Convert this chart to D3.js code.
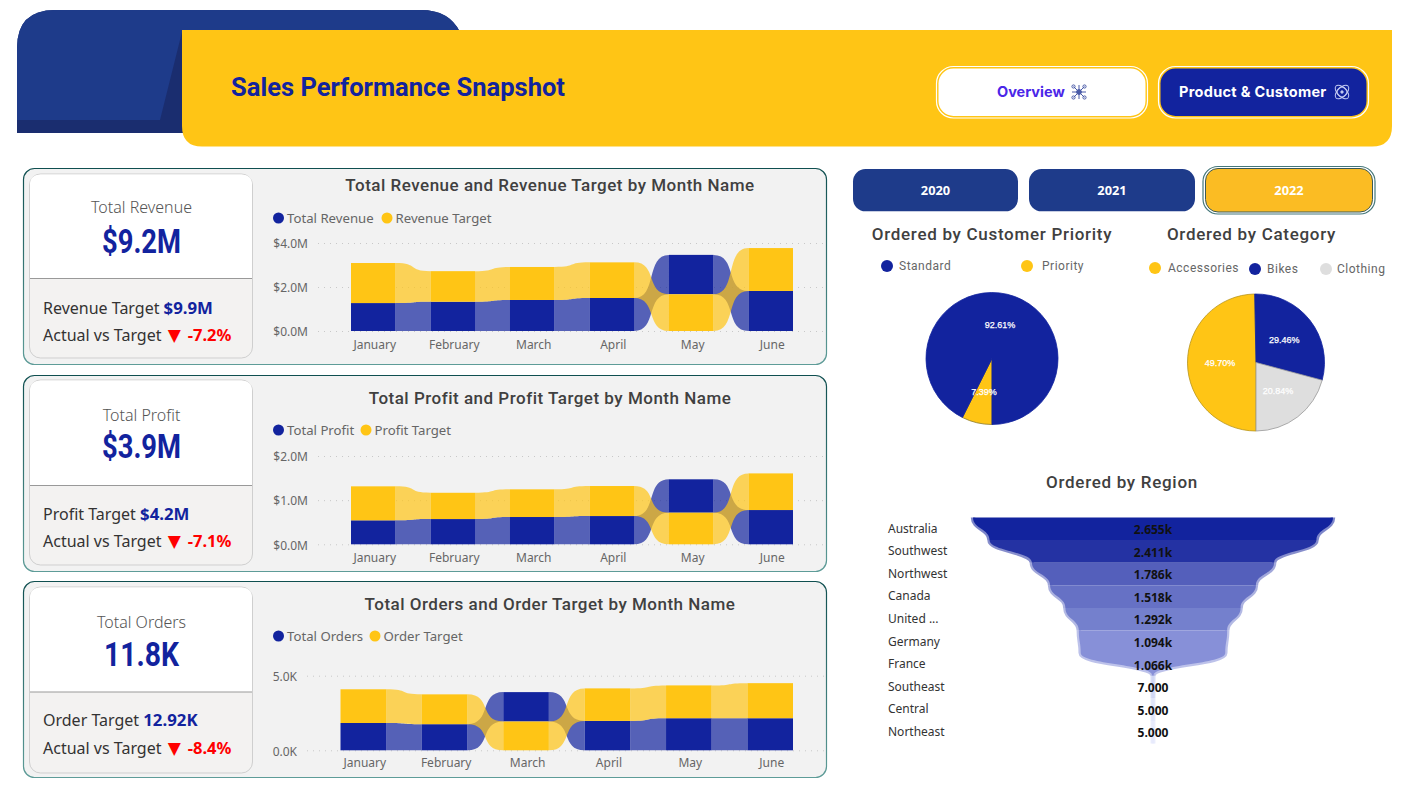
<!DOCTYPE html>
<html>
<head>
<meta charset="utf-8">
<title>Sales Performance Snapshot</title>
<script src="https://cdn.jsdelivr.net/npm/d3@7"></script>
<style>
  html, body { margin: 0; padding: 0; background: #fff; }
  svg { display: block; }
  .domain { display: none; }
</style>
</head>
<body>
<svg id="board" width="1411" height="804"></svg>
<script>
// ---------- data ----------
const months = ["January", "February", "March", "April", "May", "June"];

const revenueActual = [1.27, 1.33, 1.41, 1.50, 1.79, 1.82];
const revenueTarget = [1.82, 1.39, 1.50, 1.62, 1.67, 1.95];
const revenueTicks = [0, 2, 4];

const profitActual = [0.543, 0.572, 0.618, 0.640, 0.756, 0.776];
const profitTarget = [0.770, 0.595, 0.627, 0.680, 0.716, 0.830];
const profitTicks = [0, 1, 2];

const ordersActual = [1.83, 1.75, 1.97, 1.97, 2.15, 2.15];
const ordersTarget = [2.26, 2.00, 1.93, 2.18, 2.20, 2.35];
const ordersTicks = [0, 5];

const priorityLabels = ["Priority", "Standard"];
const priorityShares = [7.39, 92.61];

const categoryLabels = ["Accessories", "Bikes", "Clothing"];
const categoryShares = [49.70, 29.46, 20.84];

const regionLabels = ["Australia", "Southwest", "Northwest", "Canada", "United ...", "Germany", "France", "Southeast", "Central", "Northeast"];
const regionOrders = [2655, 2411, 1786, 1518, 1292, 1094, 1066, 7, 5, 5];

const yearLabels = ["2020", "2021", "2022"];

// ---------- palette and fonts ----------
const BLUE = "#12239E", GOLD = "#FFC515", GREY = "#DEDEDE", NAVY = "#1E3B8A", NAVY_DARK = "#1A2D6F";
const HEAD_FONT = "Roboto, sans-serif";
const BODY_FONT = "'Noto Sans', sans-serif";
const funnelShades = ["#12239E", "#2432A3", "#545FBB", "#6671C5", "#7480CD", "#8790D8", "#8790D8", "#CBD1F3", "#DDE1F9", "#E4E8FB"];

const svg = d3.select("#board");

function label(parent, x, y, str, o = {}) {
  const t = parent.append("text")
    .attr("x", x).attr("y", y)
    .attr("dy", "0.35em")
    .attr("text-anchor", o.anchor || "start")
    .attr("font-family", o.font || BODY_FONT)
    .attr("font-size", o.size || 12)
    .attr("font-weight", o.weight || 400)
    .attr("letter-spacing", o.spacing || 0)
    .attr("fill", o.fill || "#333")
    .text(str);
  // narrower set for the heavy display lines
  if (o.fit) t.attr("textLength", o.fit).attr("lengthAdjust", "spacingAndGlyphs");
  return t;
}

// Ribbon edge: flat near both bars, steep at the midpoint of the gap
function ribbonCurve(context) {
  const pull = 0.68;
  return {
    areaStart() { this._line = 0; },
    areaEnd() { this._line = NaN; },
    lineStart() { this._point = 0; },
    lineEnd() {
      if (this._line || (this._line !== 0 && this._point === 1)) context.closePath();
      this._line = 1 - this._line;
    },
    point(x, y) {
      if (this._point === 0) {
        this._point = 1;
        if (this._line) context.lineTo(x, y); else context.moveTo(x, y);
      } else {
        const dx = x - this._x0;
        context.bezierCurveTo(this._x0 + pull * dx, this._y0, x - pull * dx, y, x, y);
      }
      this._x0 = x; this._y0 = y;
    }
  };
}

// ---------- header band ----------
const header = svg.append("g");
header.append("path").attr("fill", NAVY_DARK)
  .attr("d", "M17,133V48Q17,10 55,10H421Q449,10 460,32V133Z");
header.append("path").attr("fill", NAVY)
  .attr("d", "M17,120V48Q17,10 55,10H421Q449,10 460,32H182L160,120Z");
header.append("path").attr("fill", GOLD)
  .attr("d", "M182,30H1392V126Q1392,146.5 1372,146.5H202Q182,146.5 182,126Z");
label(header, 231, 87, "Sales Performance Snapshot", { font: HEAD_FONT, size: 26, weight: 700, fill: BLUE, fit: 334 });

// navigation buttons
header.append("rect").attr("x", 936.5).attr("y", 66.5).attr("width", 211).attr("height", 51.5).attr("rx", 17)
  .attr("fill", "none").attr("stroke", "#fff").attr("stroke-width", 1.2);
header.append("rect").attr("x", 938.5).attr("y", 68.5).attr("width", 207).attr("height", 47.5).attr("rx", 15).attr("fill", "#fff");
label(header, 997, 92, "Overview", { font: "Inter, sans-serif", size: 14.5, weight: 700, fill: "#4A26E8" });

header.append("rect").attr("x", 1158.5).attr("y", 66.5).attr("width", 210).attr("height", 51.5).attr("rx", 17)
  .attr("fill", "none").attr("stroke", "#fff").attr("stroke-width", 1.2);
header.append("rect").attr("x", 1160.5).attr("y", 68.5).attr("width", 206).attr("height", 47.5).attr("rx", 15).attr("fill", BLUE);
label(header, 1179, 92, "Product & Customer", { font: "Inter, sans-serif", size: 14.5, weight: 700, fill: "#fff", spacing: 0.3 });

// network glyph on the first button
const netIcon = header.append("g").attr("transform", "translate(1079,92)")
  .attr("fill", "none").attr("stroke", "#4A5BA8").attr("stroke-width", 1);
[[-5.5, -5.5], [5.5, -5.5], [-5.5, 5.5], [5.5, 5.5]].forEach(([dx, dy]) => {
  netIcon.append("line").attr("x1", 0).attr("y1", 0).attr("x2", dx).attr("y2", dy);
  netIcon.append("circle").attr("cx", dx).attr("cy", dy).attr("r", 1.6);
});
netIcon.append("line").attr("x1", -7).attr("y1", 0).attr("x2", 7).attr("y2", 0);
netIcon.append("line").attr("x1", 0).attr("y1", -7).attr("x2", 0).attr("y2", 7);
netIcon.append("circle").attr("r", 2.4).attr("fill", "#4A5BA8");

// atom glyph on the second button
const atomIcon = header.append("g").attr("transform", "translate(1342,92)")
  .attr("fill", "none").attr("stroke", "#C3CAF2").attr("stroke-width", 1);
[45, -45].forEach(a => atomIcon.append("ellipse").attr("rx", 8.5).attr("ry", 4.5).attr("transform", `rotate(${a})`));
atomIcon.append("circle").attr("r", 5);
atomIcon.append("circle").attr("r", 1.2).attr("fill", "#C3CAF2");

// ---------- year selector ----------
const yearBox = d3.scaleOrdinal().domain(yearLabels).range([[853, 165], [1029, 166], [1205.5, 167]]);
const yearGroup = svg.append("g");
yearLabels.forEach((yr, i) => {
  const [x, w] = yearBox(yr);
  const active = i === yearLabels.length - 1;
  if (active) {
    yearGroup.append("rect").attr("x", x - 2.5).attr("y", 166.5).attr("width", w + 5).attr("height", 47.5).attr("rx", 15)
      .attr("fill", "#fff").attr("stroke", "#44777A").attr("stroke-width", 1.2);
  }
  yearGroup.append("rect").attr("x", x).attr("y", active ? 168.5 : 169).attr("width", w).attr("height", active ? 43.5 : 42.3).attr("rx", 12.5)
    .attr("fill", active ? "#FBBC23" : NAVY).attr("stroke", active ? "#3C5A55" : "none").attr("stroke-width", 1);
  label(yearGroup, x + w / 2, 190.5, yr, { anchor: "middle", font: "'Open Sans', sans-serif", size: 12.8, weight: 700, fill: "#fff" });
});

// ---------- KPI panels with ribbon charts ----------
const borderGrad = svg.append("defs").append("linearGradient").attr("id", "panelEdge")
  .attr("x1", 0).attr("y1", 0).attr("x2", 0).attr("y2", 1);
borderGrad.append("stop").attr("offset", "0").attr("stop-color", "#0F4F50");
borderGrad.append("stop").attr("offset", "1").attr("stop-color", "#5E9C98");

const fmtMoney = d => `$${d.toFixed(1)}M`;
const fmtKilo = d => `${d.toFixed(1)}K`;

const panels = [
  { top: 168.5, height: 196, card: [174, 358, 278.5], kpiY: [207, 241], noteY: [308, 335],
    kpiTitle: "Total Revenue", kpi: "$9.2M", kpiFit: 79, targetName: "Revenue Target", targetVal: "$9.9M", gap: "-7.2%",
    title: "Total Revenue and Revenue Target by Month Name", titleY: 185,
    actualName: "Total Revenue", targetLegend: "Revenue Target", legendY: 218, targetDot: 387,
    actual: revenueActual, target: revenueTarget, ticks: revenueTicks, fmt: fmtMoney,
    yDomain: [0, 4], yRange: [331, 243], xRange: [351, 793], gridX: [318, 826], monthY: 344 },
  { top: 375.5, height: 196, card: [380, 565, 485.5], kpiY: [415, 446], noteY: [514, 541],
    kpiTitle: "Total Profit", kpi: "$3.9M", kpiFit: 79, targetName: "Profit Target", targetVal: "$4.2M", gap: "-7.1%",
    title: "Total Profit and Profit Target by Month Name", titleY: 398,
    actualName: "Total Profit", targetLegend: "Profit Target", legendY: 430, targetDot: 366,
    actual: profitActual, target: profitTarget, ticks: profitTicks, fmt: fmtMoney,
    yDomain: [0, 2], yRange: [544.3, 456], xRange: [351, 793], gridX: [318, 826], monthY: 557 },
  { top: 581.5, height: 196, card: [587, 773, 692], kpiY: [622, 654], noteY: [720, 748],
    kpiTitle: "Total Orders", kpi: "11.8K", kpiFit: 75, targetName: "Order Target", targetVal: "12.92K", gap: "-8.4%",
    title: "Total Orders and Order Target by Month Name", titleY: 604,
    actualName: "Total Orders", targetLegend: "Order Target", legendY: 636, targetDot: 375,
    actual: ordersActual, target: ordersTarget, ticks: ordersTicks, fmt: fmtKilo,
    yDomain: [0, 5], yRange: [750.3, 675.7], xRange: [340.5, 793], gridX: [307, 826], monthY: 762 }
];

const ribbonArea = d3.area().curve(ribbonCurve).x(d => d.x).y0(d => d.y0).y1(d => d.y1);

panels.forEach(p => {
  const g = svg.append("g");
  g.append("rect").attr("x", 23.5).attr("y", p.top).attr("width", 803).attr("height", p.height).attr("rx", 11)
    .attr("fill", "#F2F2F2").attr("stroke", "url(#panelEdge)").attr("stroke-width", 1.2);

  // KPI card
  const [cardTop, cardBottom, cardSplit] = p.card;
  g.append("rect").attr("x", 29.5).attr("y", cardTop).attr("width", 223).attr("height", cardBottom - cardTop).attr("rx", 11)
    .attr("fill", "#F3F2F1").attr("stroke", "#CFCFCF");
  g.append("path").attr("fill", "#fff")
    .attr("d", `M30,${cardSplit}V${cardTop + 11}Q30,${cardTop + 0.5} 41,${cardTop + 0.5}H241Q252,${cardTop + 0.5} 252,${cardTop + 11}V${cardSplit}Z`);
  g.append("line").attr("x1", 30).attr("x2", 252).attr("y1", cardSplit).attr("y2", cardSplit)
    .attr("stroke", "#999").attr("stroke-width", 1.2);
  label(g, 141.5, p.kpiY[0], p.kpiTitle, { anchor: "middle", size: 16, weight: 300, fill: "#555" });
  label(g, 141.5, p.kpiY[1], p.kpi, { anchor: "middle", font: HEAD_FONT, size: 34, weight: 700, fill: BLUE, fit: p.kpiFit });

  const note1 = label(g, 43, p.noteY[0], p.targetName + " ", { size: 16, fill: "#333" });
  note1.append("tspan").attr("font-weight", 700).attr("font-size", 16.8).attr("fill", BLUE).text(p.targetVal);
  const note2 = label(g, 43, p.noteY[1], "Actual vs Target ", { size: 16, fill: "#333" });
  note2.append("tspan").attr("dx", 2).attr("fill", "#FF0000").attr("font-family", "'DejaVu Sans', sans-serif").attr("font-size", 17).text("▼");
  note2.append("tspan").attr("dx", 7).attr("font-weight", 700).attr("font-size", 16.5).attr("fill", "#FF0000").text(p.gap);

  // chart heading and legend
  label(g, 550, p.titleY, p.title, { anchor: "middle", font: HEAD_FONT, size: 17, weight: 500, fill: "#404040", spacing: 0.5 });
  g.append("circle").attr("cx", 278.5).attr("cy", p.legendY).attr("r", 5.5).attr("fill", BLUE);
  label(g, 287, p.legendY, p.actualName, { size: 13.2, fill: "#666" });
  g.append("circle").attr("cx", p.targetDot).attr("cy", p.legendY).attr("r", 5.5).attr("fill", GOLD);
  label(g, p.targetDot + 8.5, p.legendY, p.targetLegend, { size: 13.2, fill: "#666" });

  // scales and axes
  const x = d3.scaleBand().domain(months).range(p.xRange).paddingInner(0.44).paddingOuter(0);
  const y = d3.scaleLinear().domain(p.yDomain).range(p.yRange);

  const yAxis = g.append("g").attr("transform", `translate(${p.gridX[0]},0)`)
    .call(d3.axisLeft(y).tickValues(p.ticks).tickFormat(p.fmt)
      .tickSize(-(p.gridX[1] - p.gridX[0])).tickPadding(10));
  yAxis.selectAll("line").attr("stroke", "#C8C8C8").attr("stroke-dasharray", "1 5");
  yAxis.selectAll("text").attr("font-family", BODY_FONT).attr("font-size", 12).attr("fill", "#666").attr("dy", "0.4em");

  const xAxis = g.append("g").attr("transform", `translate(1.5,${p.monthY - 4})`)
    .call(d3.axisBottom(x).tickSize(0).tickPadding(0));
  xAxis.selectAll("text").attr("font-family", BODY_FONT).attr("font-size", 12).attr("fill", "#666");

  // per-month stacks: the larger measure always sits on top
  const stacks = months.map((m, i) => {
    const a = p.actual[i], t = p.target[i];
    return {
      month: m,
      actual: a <= t ? [0, a] : [t, t + a],
      target: a <= t ? [a, a + t] : [0, t]
    };
  });

  [["actual", BLUE], ["target", GOLD]].forEach(([key, colour]) => {
    g.append("g").selectAll("path").data(d3.pairs(stacks)).join("path")
      .attr("fill", colour).attr("fill-opacity", 0.7)
      .attr("d", ([a, b]) => ribbonArea([
        { x: x(a.month) + x.bandwidth(), y0: y(a[key][0]), y1: y(a[key][1]) },
        { x: x(b.month), y0: y(b[key][0]), y1: y(b[key][1]) }
      ]));
  });
  [["actual", BLUE], ["target", GOLD]].forEach(([key, colour]) => {
    g.append("g").selectAll("rect").data(stacks).join("rect")
      .attr("x", d => x(d.month)).attr("width", x.bandwidth())
      .attr("y", d => y(d[key][1])).attr("height", d => y(d[key][0]) - y(d[key][1]))
      .attr("fill", colour);
  });
});

// ---------- pies ----------
function drawPie(labels, shares, cx, cy, r, colours, edges) {
  const rows = labels.map((name, i) => ({ name, share: shares[i], fill: colours[i], edge: edges[i] }));
  const arcs = d3.pie().sort(null).value(d => d.share).startAngle(Math.PI).endAngle(3 * Math.PI)(rows);
  const g = svg.append("g").attr("transform", `translate(${cx},${cy})`);
  const slice = d3.arc().innerRadius(0).outerRadius(r);
  const textArc = d3.arc().innerRadius(0).outerRadius(r * 1.05);
  g.selectAll("path").data(arcs).join("path")
    .attr("d", slice).attr("fill", d => d.data.fill).attr("stroke", d => d.data.edge).attr("stroke-width", 0.8);
  g.selectAll("text").data(arcs).join("text")
    .attr("transform", d => `translate(${textArc.centroid(d)})`)
    .attr("dy", "0.35em").attr("text-anchor", "middle")
    .attr("font-family", "'Liberation Sans', Arial, sans-serif").attr("font-size", 9)
    .attr("fill", "#fff").attr("stroke", "#fff").attr("stroke-width", 0.25)
    .text(d => d.data.share.toFixed(2) + "%");
}
drawPie(priorityLabels, priorityShares, 992, 358.5, 66, [GOLD, BLUE], ["#8A7A2A", BLUE]);
drawPie(categoryLabels, categoryShares, 1256, 362.5, 68.5, [GOLD, BLUE, GREY], ["#B8941A", BLUE, "#999"]);

const sideTitle = { anchor: "middle", font: HEAD_FONT, size: 17, weight: 500, fill: "#404040", spacing: 0.7 };
label(svg, 992, 234, "Ordered by Customer Priority", sideTitle);
label(svg, 1251.5, 234, "Ordered by Category", sideTitle);
label(svg, 1122, 482, "Ordered by Region", sideTitle);

const legendStyle = { font: HEAD_FONT, size: 12, fill: "#666", spacing: 0.5 };
[["Standard", 887, 266, BLUE, 899], ["Priority", 1027, 266, GOLD, 1042],
 ["Accessories", 1155, 268, GOLD, 1168], ["Bikes", 1255, 269, BLUE, 1267], ["Clothing", 1326, 269, GREY, 1337]]
  .forEach(([name, dot, yy, colour, tx]) => {
    svg.append("circle").attr("cx", dot).attr("cy", yy).attr("r", 6).attr("fill", colour);
    label(svg, tx, yy, name, legendStyle);
  });

// ---------- region funnel ----------
const funnelCx = 1153;
const rowY = d3.scaleBand().domain(regionLabels).range([517.5, 743.5]);
const halfWidth = d3.scaleLinear().domain([0, d3.max(regionOrders)]).range([0, 180]);
const fmtOrders = d => d >= 1000 ? (d / 1000).toFixed(3) + "k" : d.toFixed(3);

const funnelRows = regionLabels.map((name, i) => ({
  name, value: regionOrders[i], next: i + 1 < regionOrders.length ? regionOrders[i + 1] : regionOrders[i], fill: funnelShades[i]
}));
const knots = d => [
  { yy: rowY(d.name), hw: halfWidth(d.value) },
  { yy: rowY(d.name) + rowY.bandwidth(), hw: halfWidth(d.next) }
];
const funnel = svg.append("g");
const sideLine = sign => d3.line().curve(d3.curveBumpY).x(k => funnelCx + sign * k.hw).y(k => k.yy);
[-1, 1].forEach(sign => {
  funnel.append("g").selectAll("path").data(funnelRows).join("path")
    .attr("d", d => sideLine(sign)(knots(d)))
    .attr("fill", "none").attr("stroke", d => d.fill).attr("stroke-opacity", 0.55).attr("stroke-width", 4.5);
});
const rowArea = d3.area().curve(d3.curveBumpY).y(k => k.yy).x0(k => funnelCx - k.hw).x1(k => funnelCx + k.hw);
funnel.append("g").selectAll("path").data(funnelRows).join("path")
  .attr("d", d => rowArea(knots(d))).attr("fill", d => d.fill);
funnelRows.forEach(d => {
  const mid = rowY(d.name) + rowY.bandwidth() / 2;
  label(funnel, 888, mid - 0.5, d.name, { size: 12, fill: "#333" });
  label(funnel, funnelCx, mid + 1, fmtOrders(d.value), { anchor: "middle", font: "'Open Sans', sans-serif", size: 12, weight: 700, fill: "#111" });
});
</script>
</body>
</html>
